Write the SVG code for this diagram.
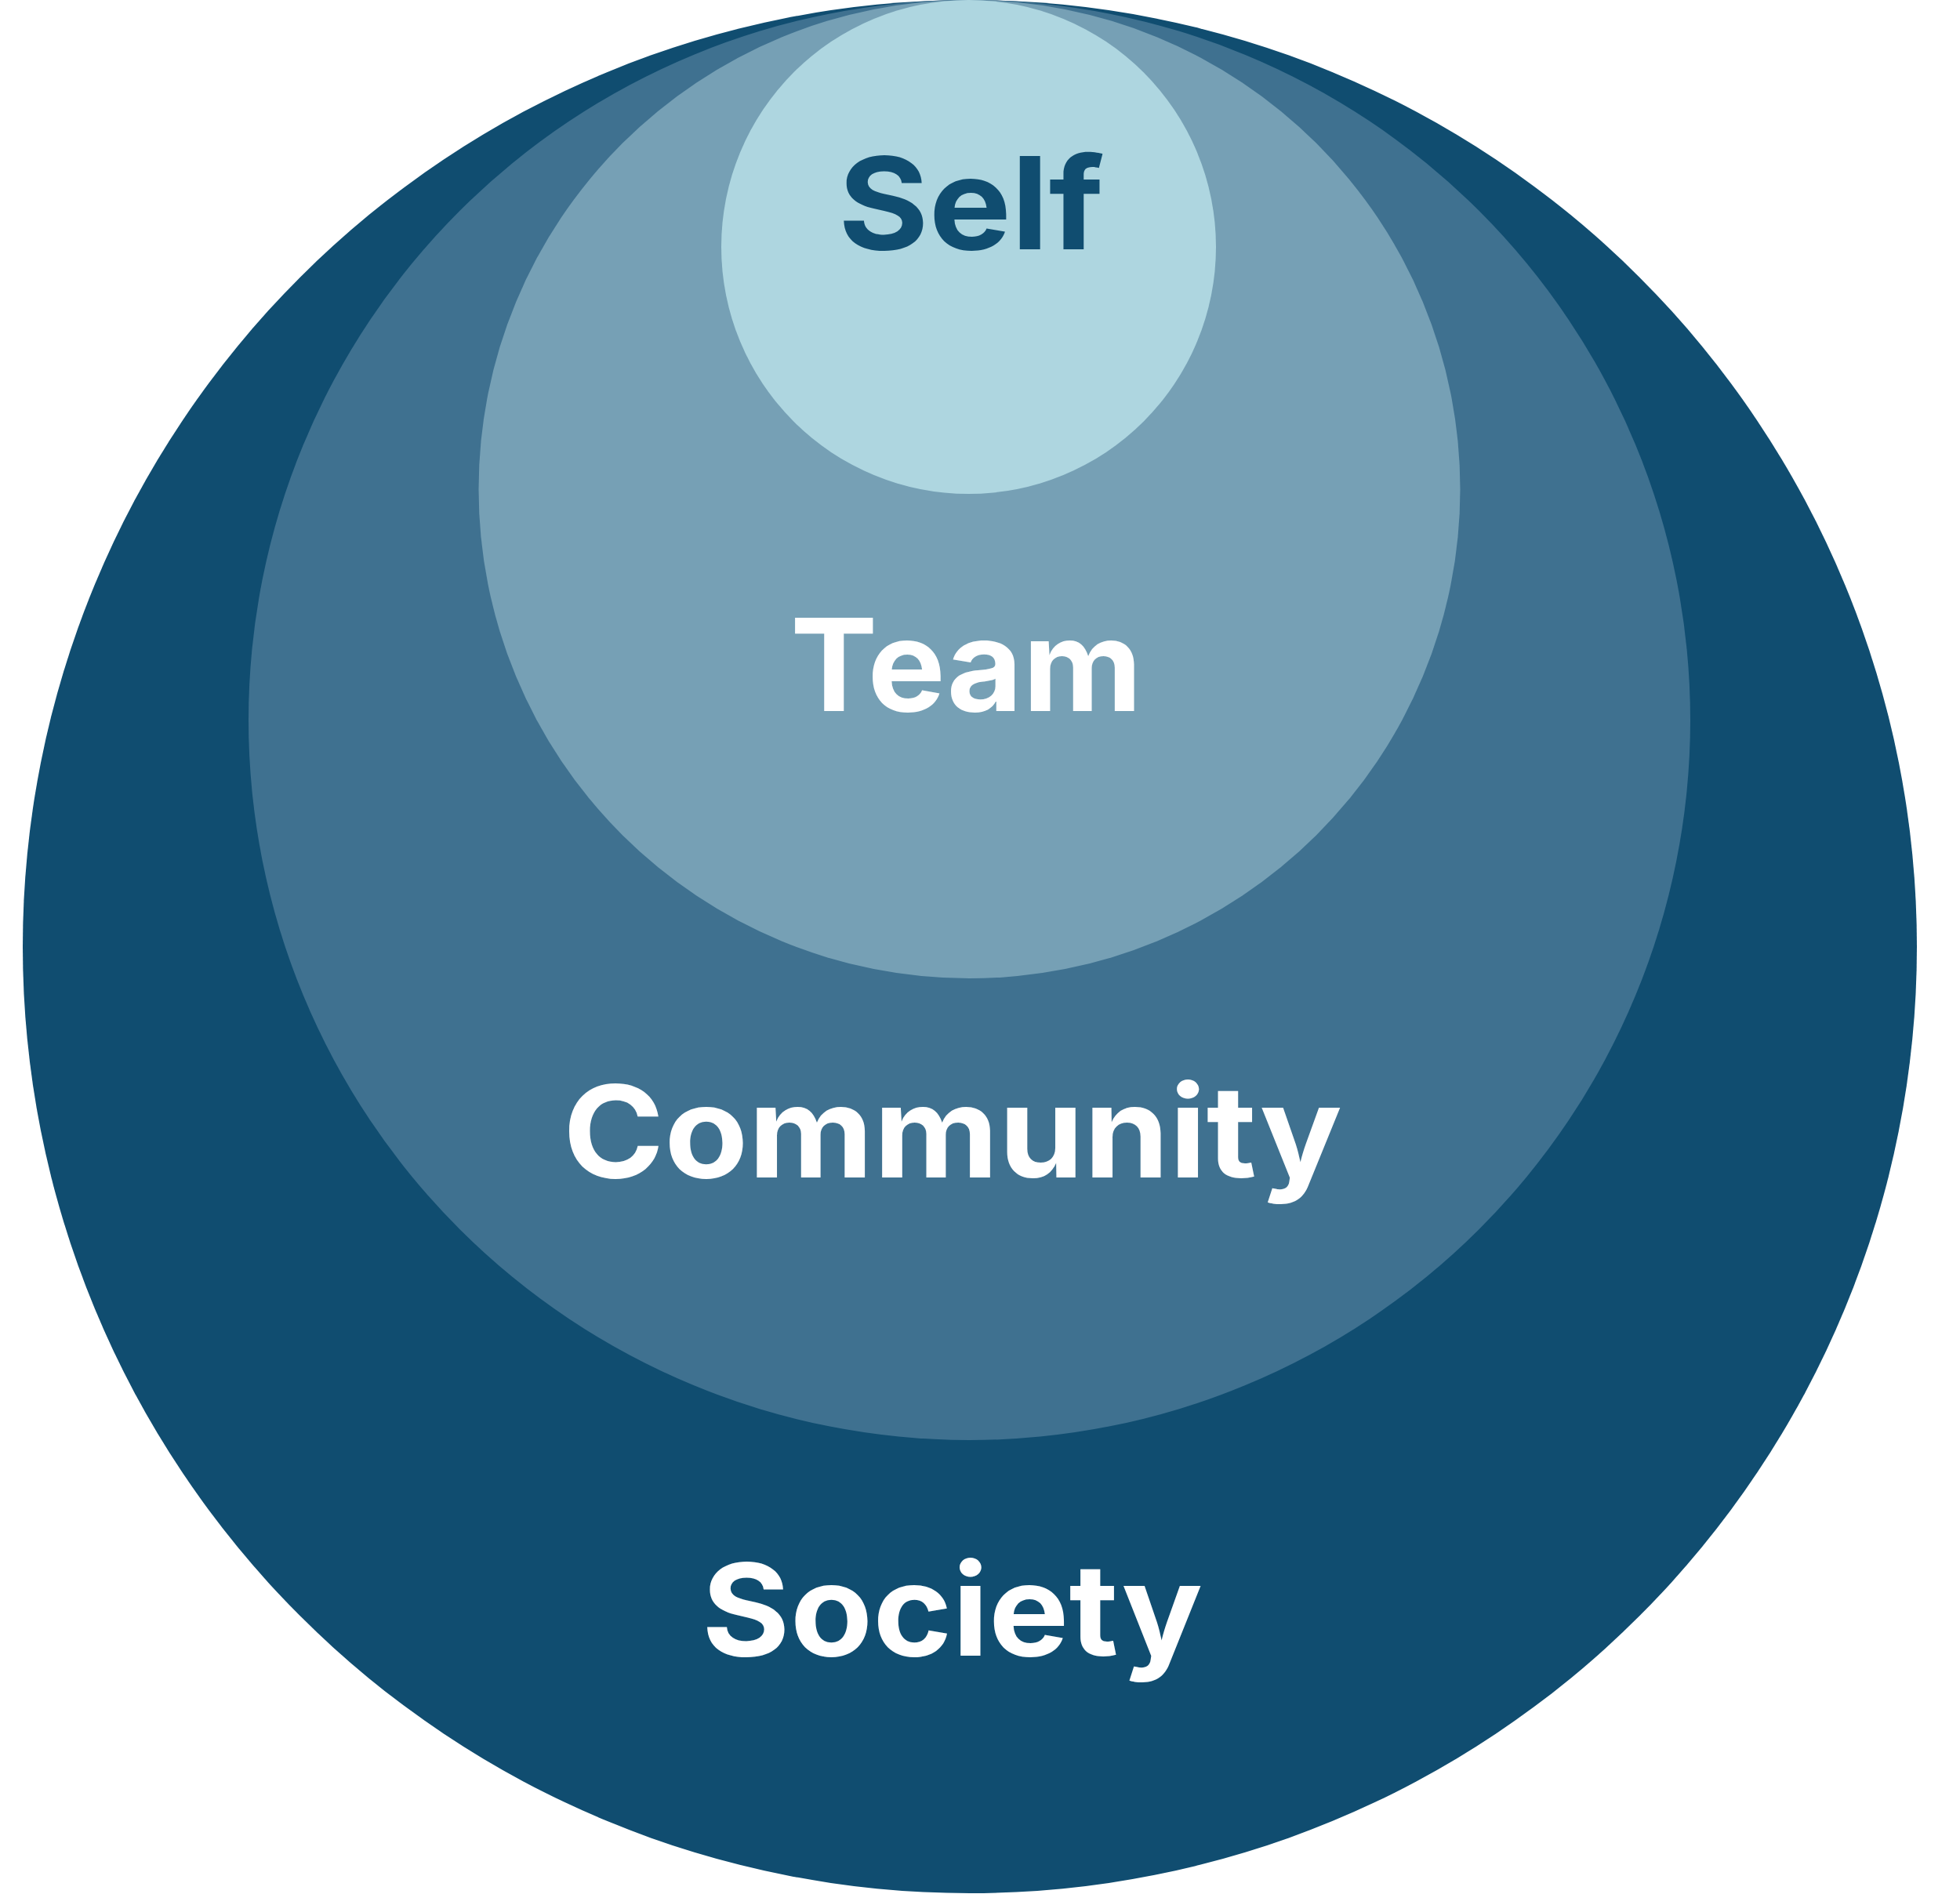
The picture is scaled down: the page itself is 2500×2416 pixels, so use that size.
<svg xmlns="http://www.w3.org/2000/svg" width="2500" height="2416" viewBox="0 0 2500 2416">
<style>
.lbl{font-family:Inter,"Liberation Sans",Arial,sans-serif;font-weight:700;font-size:163px}
</style>
<rect width="2500" height="2416" fill="#ffffff"/>
<g id="society"><ellipse cx="1237" cy="1207.5" rx="1208" ry="1207.5" fill="#104D70"/>
<text class="lbl" x="895" y="2112" textLength="639" lengthAdjust="spacingAndGlyphs" fill="#ffffff">Society</text></g>
<g id="community"><ellipse cx="1236.5" cy="918.5" rx="919.5" ry="918.5" fill="#3F7190"/>
<text class="lbl" x="718" y="1502" textLength="994" lengthAdjust="spacingAndGlyphs" fill="#ffffff">Community</text></g>
<g id="team"><ellipse cx="1236.5" cy="624" rx="626" ry="624" fill="#76A0B5"/>
<text class="lbl" x="1008" y="907" textLength="449" lengthAdjust="spacingAndGlyphs" fill="#ffffff">Team</text></g>
<g id="self"><ellipse cx="1235.5" cy="315" rx="315.5" ry="315" fill="#AED6E0"/>
<text class="lbl" x="1069" y="318" textLength="339" lengthAdjust="spacingAndGlyphs" fill="#104D70">Self</text></g>
<g id="connectors"></g>
</svg>
